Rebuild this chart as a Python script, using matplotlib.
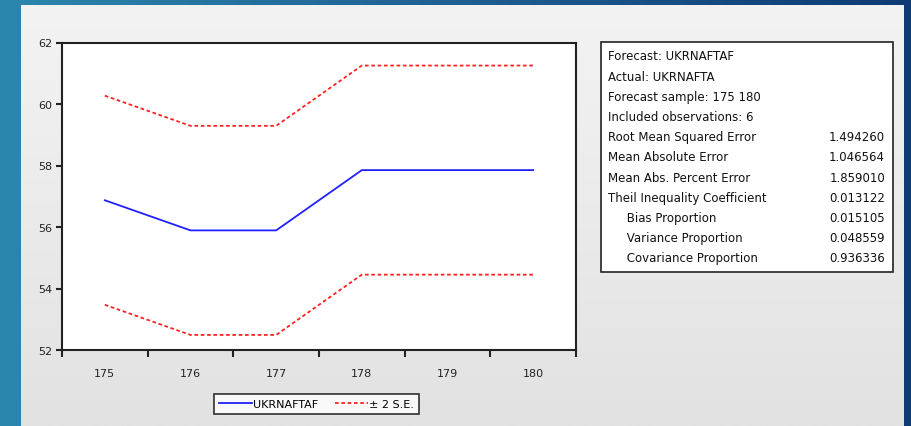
import matplotlib
matplotlib.use("Agg")
import matplotlib.pyplot as plt
from matplotlib.patches import Rectangle
from matplotlib.colors import LinearSegmentedColormap
import numpy as np

# ── data ──────────────────────────────────────────────────────────────────────
periods = [175, 176, 177, 178, 179, 180]
forecast = [56.87, 55.89, 55.89, 57.85, 57.85, 57.85]
upper_2se = [60.27, 59.29, 59.29, 61.25, 61.25, 61.25]
lower_2se = [53.47, 52.49, 52.49, 54.45, 54.45, 54.45]
y_ticks = [52, 54, 56, 58, 60, 62]

stat_labels = ["Root Mean Squared Error", "Mean Absolute Error",
               "Mean Abs. Percent Error", "Theil Inequality Coefficient",
               "     Bias Proportion", "     Variance Proportion",
               "     Covariance Proportion"]
stat_values = ["1.494260", "1.046564", "1.859010", "0.013122",
               "0.015105", "0.048559", "0.936336"]
header_lines = ["Forecast: UKRNAFTAF", "Actual: UKRNAFTA",
                "Forecast sample: 175 180", "Included observations: 6"]

W, H = 912, 427
FONT = "DejaVu Sans"
fig = plt.figure(figsize=(W / 100, H / 100), dpi=100)

# ── slide background + light panel ───────────────────────────────────────────
bg = fig.add_axes([0, 0, 1, 1], zorder=-10)
bg.set_xlim(0, W)
bg.set_ylim(H, 0)
bg.axis("off")
gx = np.linspace(0, 1, 256)[None, :]
blue = LinearSegmentedColormap.from_list("slide", ["#2b86ad", "#1f5f92", "#0e3b74"])
bg.imshow(gx, cmap=blue, extent=(0, W, H, 0), aspect="auto")
gy = np.linspace(0, 1, 256)[:, None]
grey = LinearSegmentedColormap.from_list("panel", ["#f3f3f3", "#e2e2e2"])
bg.imshow(gy, cmap=grey, extent=(21, 904, H, 6), aspect="auto")

# ── main chart ────────────────────────────────────────────────────────────────
L, R, T, B = 62, 576, 43.5, 351
ax = fig.add_axes([L / W, 1 - B / H, (R - L) / W, (B - T) / H])
ax.set_facecolor("white")
ax.plot(periods, forecast, color="#2020ff", lw=1.3)
ax.plot(periods, upper_2se, color="#ff2020", lw=1.3, ls=(0, (2, 1.5)))
ax.plot(periods, lower_2se, color="#ff2020", lw=1.3, ls=(0, (2, 1.5)))
ax.set_xlim(174.5, 180.5)
ax.set_ylim(52, 62)
ax.set_yticks(y_ticks)
ax.set_yticklabels([str(v) for v in y_ticks], fontsize=8, family=FONT, color="#222222")
ax.set_xticks(np.arange(174.5, 181, 1.0))
ax.set_xticklabels([])
ax.set_xticks(periods, minor=True)
ax.set_xticklabels([str(p) for p in periods], minor=True, fontsize=8,
                   family=FONT, color="#222222")
ax.tick_params(axis="x", which="major", direction="out", length=5, width=1.5, color="#222222")
ax.tick_params(axis="x", which="minor", length=0, pad=13)
ax.tick_params(axis="y", direction="out", length=4, width=1.5, color="#222222", pad=3)
for s in ax.spines.values():
    s.set_linewidth(1.5)
    s.set_color("#222222")

leg = ax.legend(["UKRNAFTAF", "± 2 S.E."], loc="upper center",
                bbox_to_anchor=(0.495, -0.125), ncol=2, frameon=True,
                fancybox=False, edgecolor="black", prop={"family": FONT, "size": 8},
                handlelength=3.0, handletextpad=0.1, columnspacing=1.5,
                borderpad=0.45)
leg.get_frame().set_linewidth(1.2)

# ── forecast statistics box ───────────────────────────────────────────────────
bg.add_patch(Rectangle((601, 43), 292, 230, facecolor="white",
                       edgecolor="#222222", lw=1.2))
y0, dy = 57, 20.2
for i, txt in enumerate(header_lines):
    bg.text(608, y0 + i * dy, txt, fontsize=8.5, family=FONT,
            color="#111111", va="center", ha="left")
for j, (lab, val) in enumerate(zip(stat_labels, stat_values)):
    y = y0 + (len(header_lines) + j) * dy
    bg.text(608, y, lab, fontsize=8.5, family=FONT, color="#111111",
            va="center", ha="left")
    bg.text(885, y, val, fontsize=8.5, family=FONT, color="#111111",
            va="center", ha="right")

fig.savefig("out.png", dpi=100)
